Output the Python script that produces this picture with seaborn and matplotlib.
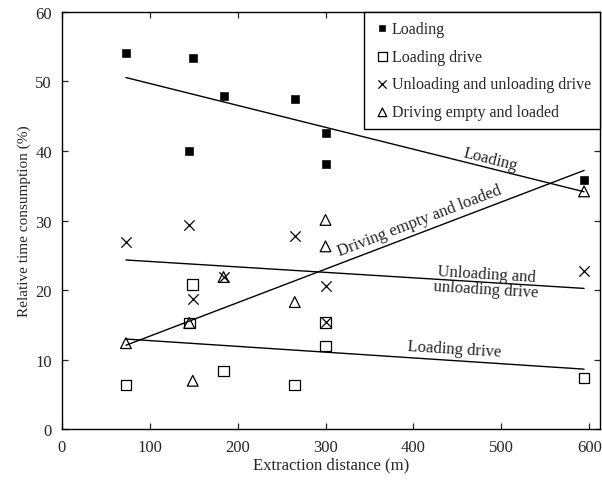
import numpy as np
import matplotlib
matplotlib.use("Agg")
import matplotlib.pyplot as plt
import seaborn as sns

# extraction distance (m) for each observation
distance = [73, 145, 149, 184, 265, 300, 300, 594]

# relative time consumption (%) per work element
loading = [54.1, 40.0, 53.4, 47.9, 47.5, 42.6, 38.1, 35.9]
loading_drive = [6.4, 15.3, 20.8, 8.4, 6.4, 12.0, 15.4, 7.4]
unloading = [27.0, 29.4, 18.8, 21.9, 27.8, 15.4, 20.6, 22.7]
driving = [12.4, 15.3, 7.0, 21.9, 18.3, 30.1, 26.3, 34.2]

sns.set_style("ticks")
plt.rcParams["font.family"] = ["Liberation Serif", "DejaVu Serif"]
plt.rcParams["xtick.direction"] = "in"
plt.rcParams["ytick.direction"] = "in"

fig = plt.figure(figsize=(6.02, 4.81), dpi=100)
ax = fig.add_axes([0.1025, 0.105, 0.894, 0.8685])

series = [
    ("Loading", loading, dict(marker="s", color="black", s=32, edgecolor="black")),
    ("Loading drive", loading_drive, dict(marker="s", facecolors="none", edgecolor="black", s=60, linewidth=0.9)),
    ("Unloading and unloading drive", unloading, dict(marker="x", color="black", s=55, linewidth=0.9)),
    ("Driving empty and loaded", driving, dict(marker="^", facecolors="none", edgecolor="black", s=60, linewidth=0.9)),
]

for label, vals, kw in series:
    sns.scatterplot(x=distance, y=vals, ax=ax, label=label, zorder=3, **kw)
    sns.regplot(x=np.array(distance), y=np.array(vals), ax=ax, scatter=False, ci=None,
                line_kws=dict(color="black", linewidth=1.0))

# line labels
fs_lab = 12
ax.text(488, 38.8, "Loading", rotation=-14, ha="center", va="center", fontsize=fs_lab)
ax.text(407, 30.0, "Driving empty and loaded", rotation=21, ha="center", va="center", fontsize=fs_lab)
ax.text(483, 21.2, "Unloading and\nunloading drive", rotation=-3.5, ha="center", va="center",
        fontsize=fs_lab, linespacing=0.95)
ax.text(447, 11.6, "Loading drive", rotation=-3.5, ha="center", va="center", fontsize=fs_lab)

ax.set_xlim(0, 612)
ax.set_ylim(0, 60)
ax.set_xticks([0, 100, 200, 300, 400, 500, 600])
ax.set_yticks([0, 10, 20, 30, 40, 50, 60])
ax.tick_params(axis="both", which="both", top=True, right=True, labelsize=12, length=4, width=0.9, pad=7)
for sp in ax.spines.values():
    sp.set_linewidth(1.0)
    sp.set_color("black")

ax.set_xlabel("Extraction distance (m)", fontsize=12, labelpad=1)
ax.set_ylabel("Relative time consumption (%)", fontsize=11, labelpad=3)

leg = ax.legend(loc="upper right", frameon=True, fancybox=False, fontsize=11.5,
                handletextpad=0.0, handlelength=1.2, borderaxespad=0.0,
                labelspacing=0.75, borderpad=0.55, markerscale=0.8)
leg.get_frame().set_edgecolor("black")
leg.get_frame().set_linewidth(1.0)
leg.get_frame().set_alpha(1)

fig.savefig("out.png", dpi=100)
